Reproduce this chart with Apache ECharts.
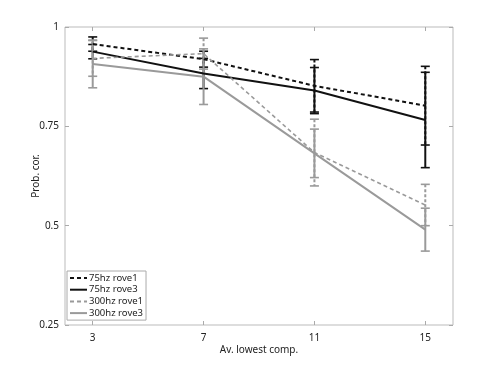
<!DOCTYPE html>
<html><head><meta charset="utf-8">
<script src="https://cdn.jsdelivr.net/npm/echarts@6/dist/echarts.min.js"></script>
<style>html,body{margin:0;padding:0;background:#fff}#c{width:500px;height:365px}</style>
</head><body><div id="c"></div>
<script>
const xValues = [3, 7, 11, 15];
const seriesNames = ['75hz rove1', '75hz rove3', '300hz rove1', '300hz rove3'];
const r75rove1 = [0.957, 0.919, 0.852, 0.802];
const r75rove3 = [0.938, 0.883, 0.840, 0.766];
const r300rove1 = [0.921, 0.933, 0.684, 0.552];
const r300rove3 = [0.907, 0.875, 0.682, 0.490];
const e75rove1 = [0.018, 0.020, 0.066, 0.099];
const e75rove3 = [0.018, 0.038, 0.058, 0.120];
const e300rove1 = [0.045, 0.039, 0.084, 0.052];
const e300rove3 = [0.060, 0.070, 0.061, 0.054];
const yTicks = [0.25, 0.5, 0.75, 1];

const vals = [r75rove1, r75rove3, r300rove1, r300rove3];
const errs = [e75rove1, e75rove3, e300rove1, e300rove3];
const colors = ['#111111', '#111111', '#9a9a9a', '#9a9a9a'];
const dashed = [true, false, true, false];
const widths = [2, 2, 1.6, 2];

const FONT = 'Noto Sans';
const series = [];
vals.forEach((v, i) => {
  series.push({
    name: seriesNames[i], type: 'line', symbol: 'none', silent: true,
    data: xValues.map((x, j) => [x, v[j]]),
    lineStyle: { color: colors[i], width: widths[i], type: dashed[i] ? [4, 3] : 'solid' },
    itemStyle: { color: colors[i] }, z: 3
  });
});
vals.forEach((v, i) => {
  series.push({
    name: 'err' + i, type: 'custom', silent: true, z: 2,
    data: xValues.map((x, j) => [x, v[j], errs[i][j]]),
    encode: { x: 0, y: 1 },
    renderItem: function (params, api) {
      const x = api.value(0), y = api.value(1), e = api.value(2);
      const hi = api.coord([x, y + e]), lo = api.coord([x, y - e]);
      const w = 4.5;
      const st = { stroke: colors[i], lineWidth: 2, lineDash: dashed[i] ? [3, 2] : null, fill: null };
      const cst = { stroke: colors[i], lineWidth: 1.6, fill: null };
      return { type: 'group', children: [
        { type: 'line', shape: { x1: hi[0], y1: hi[1], x2: lo[0], y2: lo[1] }, style: st },
        { type: 'line', shape: { x1: hi[0] - w, y1: hi[1], x2: hi[0] + w, y2: hi[1] }, style: cst },
        { type: 'line', shape: { x1: lo[0] - w, y1: lo[1], x2: lo[0] + w, y2: lo[1] }, style: cst }
      ]};
    }
  });
});

const tickStyle = { show: true, inside: true, length: 4, lineStyle: { color: '#aaa' } };
const xBase = {
  type: 'value', min: 2, max: 16,
  axisLine: { show: false }, splitLine: { show: false }
};
const yBase = {
  type: 'value', min: 0.25, max: 1, interval: 0.25,
  axisLine: { show: false }, splitLine: { show: false }
};

const chart = echarts.init(document.getElementById('c'), null, { renderer: 'canvas' });
chart.setOption({
  animation: false,
  backgroundColor: '#fff',
  grid: { left: 65, right: 47, top: 27, bottom: 40, show: true, borderColor: '#bbb', borderWidth: 1 },
  xAxis: [
    Object.assign({}, xBase, {
      position: 'bottom', name: 'Av. lowest comp.', nameLocation: 'middle', nameGap: 20,
      nameMoveOverlap: false,
      nameTextStyle: { fontFamily: FONT, fontSize: 10, color: '#222' },
      axisTick: Object.assign({}, tickStyle, { customValues: xValues }),
      axisLabel: { customValues: xValues, fontFamily: FONT, fontSize: 10, color: '#222', margin: 8 }
    }),
    Object.assign({}, xBase, {
      position: 'top',
      axisTick: Object.assign({}, tickStyle, { customValues: xValues }),
      axisLabel: { show: false }
    })
  ],
  yAxis: [
    Object.assign({}, yBase, {
      position: 'left', name: 'Prob. cor.', nameLocation: 'middle', nameGap: 24,
      nameMoveOverlap: false,
      nameTextStyle: { fontFamily: FONT, fontSize: 10, color: '#222' },
      axisTick: tickStyle,
      axisLabel: { fontFamily: FONT, fontSize: 10, color: '#222', margin: 6,
        formatter: v => String(+v.toFixed(2)) }
    }),
    Object.assign({}, yBase, {
      position: 'right', axisTick: tickStyle, axisLabel: { show: false }
    })
  ],
  legend: {
    data: seriesNames, orient: 'vertical', left: 67, top: 271,
    itemWidth: 17, itemHeight: 10, itemGap: 1.7, padding: [2, 3, 2, 2],
    borderColor: '#aaa', borderWidth: 1, backgroundColor: '#fff',
    selectedMode: false,
    itemStyle: { opacity: 0 },
    textStyle: { fontFamily: FONT, fontSize: 9.5, color: '#222', lineHeight: 10, padding: [0, 0, 0, -3] }
  },
  series: series
});
</script></body></html>
